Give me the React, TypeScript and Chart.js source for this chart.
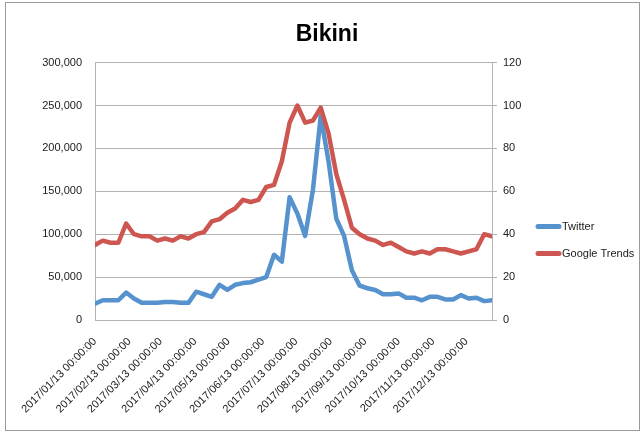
import React, { useEffect, useRef } from 'react';
import { Chart, registerables } from 'chart.js';

Chart.register(...registerables);

const TITLE = 'Bikini';

const dates = [
  '2017/01/13', '2017/01/20', '2017/01/27',
  '2017/02/03', '2017/02/10', '2017/02/17', '2017/02/24',
  '2017/03/03', '2017/03/10', '2017/03/17', '2017/03/24', '2017/03/31',
  '2017/04/07', '2017/04/14', '2017/04/21', '2017/04/28',
  '2017/05/05', '2017/05/12', '2017/05/19', '2017/05/26',
  '2017/06/02', '2017/06/09', '2017/06/16', '2017/06/23', '2017/06/30',
  '2017/07/07', '2017/07/14', '2017/07/21', '2017/07/28',
  '2017/08/04', '2017/08/11', '2017/08/18', '2017/08/25',
  '2017/09/01', '2017/09/08', '2017/09/15', '2017/09/22', '2017/09/29',
  '2017/10/06', '2017/10/13', '2017/10/20', '2017/10/27',
  '2017/11/03', '2017/11/10', '2017/11/17', '2017/11/24',
  '2017/12/01', '2017/12/08', '2017/12/15', '2017/12/22', '2017/12/29',
  '2018/01/05',
];

const twitter = [
  19000, 23000, 23000, 23000, 32000, 25000, 20000, 20000, 20000, 21000,
  21000, 20000, 20000, 33000, 30000, 27000, 41000, 35000, 41000, 43000,
  44000, 47000, 50000, 76000, 68000, 143000, 124000, 98000, 152000, 238000,
  185000, 118000, 98000, 58000, 40000, 37000, 35000, 30000, 30000, 31000,
  26000, 26000, 23000, 27000, 27000, 24000, 24000, 29000, 25000, 26000,
  22000, 23000,
];

const googleTrends = [
  35, 37, 36, 36, 45, 40, 39, 39, 37, 38,
  37, 39, 38, 40, 41, 46, 47, 50, 52, 56,
  55, 56, 62, 63, 74, 92, 100, 92, 93, 99,
  87, 68, 56, 43, 40, 38, 37, 35, 36, 34,
  32, 31, 32, 31, 33, 33, 32, 31, 32, 33,
  40, 39,
];

const tickLabels = [
  '2017/01/13 00:00:00', '2017/02/13 00:00:00', '2017/03/13 00:00:00',
  '2017/04/13 00:00:00', '2017/05/13 00:00:00', '2017/06/13 00:00:00',
  '2017/07/13 00:00:00', '2017/08/13 00:00:00', '2017/09/13 00:00:00',
  '2017/10/13 00:00:00', '2017/11/13 00:00:00', '2017/12/13 00:00:00',
];

const seriesNames = ['Twitter', 'Google Trends'];
const seriesColors = ['#5592CE', '#CD5650'];

const LEFT_MAX = 300000;
const LEFT_STEP = 50000;
const RIGHT_MAX = 120;
const RIGHT_STEP = 20;

const FONT = '"Liberation Sans", Arial, sans-serif';
const TEXT_COLOR = '#1a1a1a';
const GRID_COLOR = '#b3b3b3';

function toDay(s: string): number {
  const [y, m, d] = s.split(/[\/ ]/).map(Number);
  return Date.UTC(y, m - 1, d) / 86400000;
}

const base = toDay(dates[0]);
const xs = dates.map((d) => toDay(d) - base);
const tickDays = tickLabels.map((t) => toDay(t) - base);

const legendPlugin = {
  id: 'sideLegend',
  afterDraw(chart: any) {
    const { ctx, chartArea } = chart;
    const x0 = chartArea.right + 44;
    const yStart = chartArea.top + 164;
    chart.data.datasets.forEach((ds: any, i: number) => {
      const y = yStart + i * 27;
      ctx.save();
      ctx.strokeStyle = ds.borderColor;
      ctx.lineWidth = 5;
      ctx.lineCap = 'round';
      ctx.beginPath();
      ctx.moveTo(x0 + 2, y);
      ctx.lineTo(x0 + 23, y);
      ctx.stroke();
      ctx.fillStyle = TEXT_COLOR;
      ctx.font = `11px ${FONT}`;
      ctx.textBaseline = 'middle';
      ctx.textAlign = 'left';
      ctx.fillText(ds.label, x0 + 26, y);
      ctx.restore();
    });
  },
};

export default function App() {
  const ref = useRef<HTMLCanvasElement>(null);

  useEffect(() => {
    if (!ref.current) return;
    const chart = new Chart(ref.current, {
      type: 'line',
      data: {
        datasets: [
          {
            label: seriesNames[0],
            data: xs.map((x, i) => ({ x, y: twitter[i] })),
            borderColor: seriesColors[0],
            backgroundColor: seriesColors[0],
            borderWidth: 4.5,
            pointRadius: 0,
            tension: 0,
            borderJoinStyle: 'round',
            borderCapStyle: 'round',
            yAxisID: 'y',
            order: 1,
          },
          {
            label: seriesNames[1],
            data: xs.map((x, i) => ({ x, y: googleTrends[i] })),
            borderColor: seriesColors[1],
            backgroundColor: seriesColors[1],
            borderWidth: 4.5,
            pointRadius: 0,
            tension: 0,
            borderJoinStyle: 'round',
            borderCapStyle: 'round',
            yAxisID: 'y1',
            order: 0,
          },
        ],
      },
      options: {
        animation: false,
        responsive: false,
        maintainAspectRatio: false,
        layout: { padding: { left: 20, right: 8, top: 0, bottom: 0 } },
        plugins: {
          legend: { display: false },
          tooltip: { enabled: false },
          title: {
            display: true,
            text: TITLE,
            color: '#000',
            font: { family: FONT, size: 23, weight: 'bold' },
            padding: { top: 21, bottom: 14 },
          },
        },
        scales: {
          x: {
            type: 'linear',
            min: 0,
            max: xs[xs.length - 1],
            afterBuildTicks: (scale: any) => {
              scale.ticks = tickDays.map((v) => ({ value: v }));
            },
            afterFit: (scale: any) => {
              scale.height = 115;
            },
            ticks: {
              autoSkip: false,
              minRotation: 45,
              maxRotation: 45,
              padding: 15,
              color: TEXT_COLOR,
              font: { family: FONT, size: 11 },
              callback: (value: any) => {
                const idx = tickDays.indexOf(Number(value));
                return idx >= 0 ? tickLabels[idx] : '';
              },
            },
            grid: { display: false, drawTicks: false },
            border: { display: true, color: GRID_COLOR, width: 1 },
          },
          y: {
            type: 'linear',
            position: 'left',
            min: 0,
            max: LEFT_MAX,
            afterFit: (scale: any) => {
              scale.width = 75;
            },
            ticks: {
              stepSize: LEFT_STEP,
              padding: 13,
              color: TEXT_COLOR,
              font: { family: FONT, size: 11 },
              callback: (v: any) => Number(v).toLocaleString('en-US'),
            },
            grid: { color: GRID_COLOR, lineWidth: 1, drawTicks: false },
            border: { display: true, color: GRID_COLOR, width: 1 },
          },
          y1: {
            type: 'linear',
            position: 'right',
            min: 0,
            max: RIGHT_MAX,
            afterFit: (scale: any) => {
              scale.width = 142;
            },
            ticks: {
              stepSize: RIGHT_STEP,
              padding: 6,
              color: TEXT_COLOR,
              font: { family: FONT, size: 11 },
            },
            grid: {
              drawOnChartArea: false,
              drawTicks: true,
              tickLength: 5,
              color: GRID_COLOR,
            },
            border: { display: true, color: GRID_COLOR, width: 1 },
          },
        },
      },
      plugins: [legendPlugin],
    });
    return () => chart.destroy();
  }, []);

  return (
    <div style={{ position: 'absolute', left: 0, top: 0, width: 642, height: 435, background: '#fff' }}>
      <canvas ref={ref} width={642} height={435} style={{ display: 'block' }} />
      <div
        style={{
          position: 'absolute',
          left: 5,
          top: 2,
          width: 635,
          height: 429,
          border: '1px solid #9a9a9a',
          boxSizing: 'border-box',
          pointerEvents: 'none',
        }}
      />
    </div>
  );
}
